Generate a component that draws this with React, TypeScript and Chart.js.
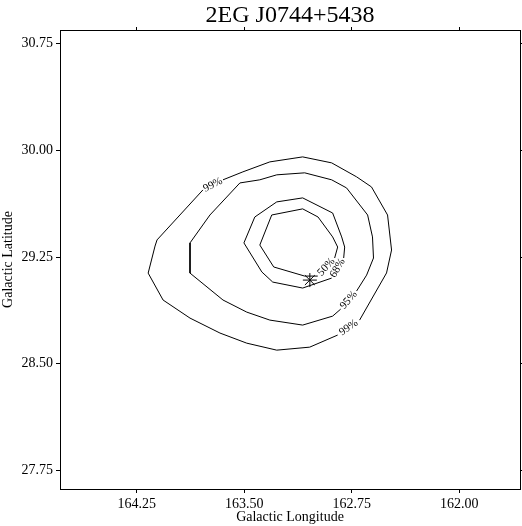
import React, { useEffect, useRef } from 'react';
import { Chart, registerables } from 'chart.js';
Chart.register(...registerables);

const TITLE = '2EG J0744+5438';
const X_TITLE = 'Galactic Longitude';
const Y_TITLE = 'Galactic Latitude';
const xTicks = [164.25, 163.5, 162.75, 162.0];
const yTicks = [27.75, 28.5, 29.25, 30.0, 30.75];
const xRange = [161.577, 164.786];
const yRange = [27.621, 30.844];

const levels = ['99%', '95%', '68%', '50%'];

// contour vertices [longitude, latitude]; null marks the gap holding the level label
const c99: ([number, number] | null)[] = [
  [163.649, 29.792], [163.51, 29.848], [163.322, 29.918], [163.093, 29.953], [162.891, 29.911],
  [162.717, 29.813], [162.613, 29.742], [162.501, 29.545], [162.473, 29.299], [162.508, 29.138],
  [162.696, 28.807],
  null,
  [162.849, 28.702], [163.044, 28.617], [163.274, 28.596], [163.483, 28.645], [163.67, 28.716],
  [163.879, 28.821], [164.067, 28.948], [164.171, 29.137], [164.123, 29.327], [164.109, 29.37],
  [163.789, 29.721],
  null,
];
const c95: ([number, number] | null)[] = [
  [162.717, 29.011], [162.647, 29.123], [162.599, 29.243], [162.606, 29.391], [162.64, 29.545],
  [162.787, 29.735], [162.891, 29.792], [163.079, 29.841], [163.274, 29.827], [163.392, 29.792],
  [163.531, 29.77], [163.74, 29.545], [163.879, 29.349], [163.879, 29.137], [163.649, 28.948],
  [163.483, 28.863], [163.322, 28.807], [163.093, 28.772], [162.884, 28.835], [162.828, 28.884],
  null,
];
const c68: ([number, number] | null)[] = [
  [162.807, 29.243], [162.8, 29.32], [162.821, 29.391], [162.884, 29.559], [163.093, 29.665],
  [163.274, 29.637], [163.427, 29.531], [163.503, 29.349], [163.378, 29.145], [163.302, 29.074],
  [163.093, 29.032], [162.891, 29.102],
  null,
];
const c50: ([number, number] | null)[] = [
  [162.988, 29.116], [163.079, 29.116], [163.295, 29.18], [163.392, 29.334], [163.309, 29.545],
  [163.093, 29.588], [162.986, 29.531], [162.884, 29.391], [162.849, 29.32], [162.87, 29.243],
  null,
];

const starX = [163.043];
const starY = [29.088];

const FONT = '"Liberation Serif", "Times New Roman", serif';

export default function App() {
  const ref = useRef<HTMLCanvasElement>(null);
  useEffect(() => {
    document.body.style.margin = '0';
    const canvas = ref.current!;
    const toPts = (a: ([number, number] | null)[]) =>
      a.map((p) => (p ? { x: p[0], y: p[1] } : { x: NaN, y: NaN }));
    const contours = [c99, c95, c68, c50];
    const datasets: any[] = contours.map((c, i) => ({
      label: levels[i],
      data: toPts(c),
      showLine: true,
      borderColor: '#000',
      borderWidth: 1,
      pointRadius: 0,
      spanGaps: false,
      fill: false,
      tension: 0,
    }));
    datasets.push({
      label: 'source',
      data: starX.map((x, i) => ({ x, y: starY[i] })),
      showLine: false,
      pointStyle: 'star',
      pointRadius: 7,
      borderColor: '#000',
      backgroundColor: '#000',
      borderWidth: 1,
    });

    const labelPlugin = {
      id: 'contourLabels',
      afterDatasetsDraw(chart: any) {
        const { ctx } = chart;
        const xs = chart.scales.x;
        const ys = chart.scales.y;
        ctx.save();
        ctx.fillStyle = '#000';
        ctx.font = `11px ${FONT}`;
        ctx.textAlign = 'center';
        ctx.textBaseline = 'middle';
        contours.forEach((c, di) => {
          const n = c.length;
          c.forEach((p, i) => {
            if (p !== null) return;
            const a = c[(i - 1 + n) % n]!;
            const b = c[(i + 1) % n]!;
            let x1 = xs.getPixelForValue(a[0]);
            let y1 = ys.getPixelForValue(a[1]);
            let x2 = xs.getPixelForValue(b[0]);
            let y2 = ys.getPixelForValue(b[1]);
            if (x2 < x1) {
              [x1, x2] = [x2, x1];
              [y1, y2] = [y2, y1];
            }
            const ang = Math.atan2(y2 - y1, x2 - x1);
            ctx.save();
            ctx.translate((x1 + x2) / 2, (y1 + y2) / 2);
            ctx.rotate(ang);
            ctx.fillText(levels[di], 0, 0);
            ctx.restore();
          });
        });
        ctx.restore();
      },
    };

    const titlePlugin = {
      id: 'plotTitle',
      afterDraw(chart: any) {
        const { ctx, chartArea } = chart;
        ctx.save();
        ctx.fillStyle = '#000';
        ctx.font = `24px ${FONT}`;
        ctx.textAlign = 'center';
        ctx.textBaseline = 'alphabetic';
        ctx.fillText(TITLE, (chartArea.left + chartArea.right) / 2, 22);
        ctx.restore();
      },
    };

    const setX = (s: any) => {
      s.ticks = xTicks.map((v) => ({ value: v }));
    };
    const setY = (s: any) => {
      s.ticks = yTicks.map((v) => ({ value: v }));
    };
    const noPad = (s: any) => {
      s.paddingLeft = 0;
      s.paddingRight = 0;
      s.paddingTop = 0;
      s.paddingBottom = 0;
    };
    const tickFont = { family: FONT, size: 14 };

    const chart = new Chart(canvas, {
      type: 'scatter',
      data: { datasets },
      options: {
        animation: false,
        responsive: true,
        maintainAspectRatio: false,
        layout: { autoPadding: false, padding: { top: 27, left: 0, right: 0, bottom: 0 } },
        plugins: { legend: { display: false }, tooltip: { enabled: false }, title: { display: false } },
        scales: {
          x: {
            type: 'linear',
            position: 'bottom',
            min: xRange[0],
            max: xRange[1],
            reverse: true,
            afterBuildTicks: setX,
            afterFit: (s: any) => {
              s.height = 37;
              noPad(s);
            },
            ticks: {
              callback: (v: any) => Number(v).toFixed(2),
              font: tickFont,
              color: '#000',
              padding: 3,
              maxRotation: 0,
              autoSkip: false,
            },
            grid: { drawOnChartArea: false, drawTicks: true, tickLength: 4, color: '#000' },
            border: { display: true, color: '#000', width: 1 },
            title: { display: true, text: X_TITLE, font: tickFont, color: '#000', padding: 0 },
          },
          x2: {
            type: 'linear',
            position: 'top',
            min: xRange[0],
            max: xRange[1],
            reverse: true,
            afterBuildTicks: setX,
            afterFit: (s: any) => {
              s.height = 3;
              noPad(s);
            },
            ticks: { display: false },
            grid: { drawOnChartArea: false, drawTicks: true, tickLength: 3, color: '#000' },
            border: { display: true, color: '#000', width: 1 },
          },
          y: {
            type: 'linear',
            position: 'left',
            min: yRange[0],
            max: yRange[1],
            afterBuildTicks: setY,
            afterFit: (s: any) => {
              s.width = 60;
              noPad(s);
            },
            ticks: {
              callback: (v: any) => Number(v).toFixed(2),
              font: tickFont,
              color: '#000',
              padding: 3,
              autoSkip: false,
            },
            grid: { drawOnChartArea: false, drawTicks: true, tickLength: 4, color: '#000' },
            border: { display: true, color: '#000', width: 1 },
            title: { display: true, text: Y_TITLE, font: tickFont, color: '#000', padding: 0 },
          },
          y2: {
            type: 'linear',
            position: 'right',
            min: yRange[0],
            max: yRange[1],
            afterBuildTicks: setY,
            afterFit: (s: any) => {
              s.width = 2;
              noPad(s);
            },
            ticks: { display: false },
            grid: { drawOnChartArea: false, drawTicks: true, tickLength: 2, color: '#000' },
            border: { display: true, color: '#000', width: 1 },
          },
        },
      } as any,
      plugins: [labelPlugin, titlePlugin],
    });
    return () => chart.destroy();
  }, []);
  return (
    <div style={{ width: 522, height: 526, position: 'relative' }}>
      <canvas ref={ref} />
    </div>
  );
}
